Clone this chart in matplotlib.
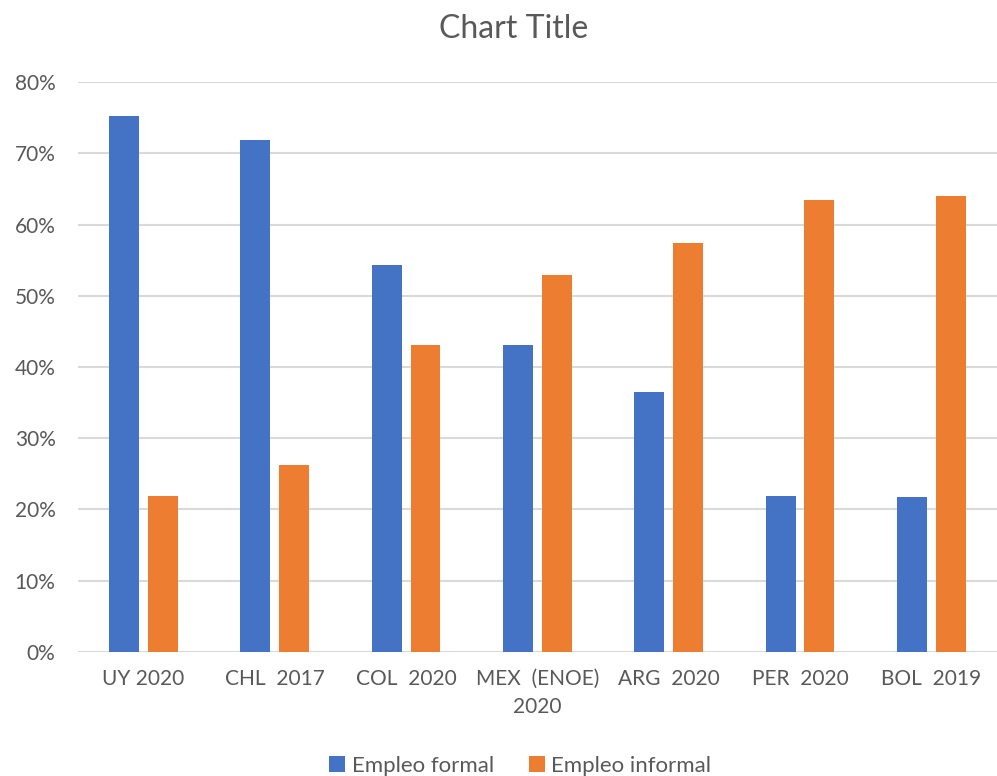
import numpy as np
import matplotlib.pyplot as plt
from matplotlib.ticker import PercentFormatter

plt.rcParams['font.family'] = ['Lato', 'DejaVu Sans']

categorias = ['UY 2020', 'CHL  2017', 'COL  2020', 'MEX  (ENOE)\n2020',
              'ARG  2020', 'PER  2020', 'BOL  2019']
formal = [0.752, 0.719, 0.543, 0.431, 0.365, 0.219, 0.218]
informal = [0.219, 0.262, 0.431, 0.529, 0.574, 0.634, 0.640]

azul = '#4472C4'
naranja = '#ED7D31'
gris = '#595959'

fig = plt.figure(figsize=(9.97, 7.76), dpi=100)
ax = fig.add_axes([0.078, 0.16, 0.922, 0.734])

x = np.arange(len(categorias))
ancho = 0.228
ax.bar(x - 0.148, formal, ancho, color=azul, label='Empleo formal', zorder=3)
ax.bar(x + 0.148, informal, ancho, color=naranja, label='Empleo informal', zorder=3)

ax.set_xlim(-0.5, len(categorias) - 0.5)
ax.set_ylim(0, 0.8)
ax.set_yticks(np.arange(0, 0.81, 0.1))
ax.yaxis.set_major_formatter(PercentFormatter(1.0, decimals=0))
ax.set_xticks(x)
ax.set_xticklabels(categorias, linespacing=1.55)
ax.tick_params(axis='both', length=0, labelsize=15, colors=gris)
ax.tick_params(axis='x', pad=12, labelcolor=gris)
ax.tick_params(axis='y', pad=16)
ax.grid(axis='y', color='#D9D9D9', linewidth=1.5, zorder=0)
for s in ax.spines.values():
    s.set_visible(False)

fig.text(0.515, 0.963, 'Chart Title', ha='center', va='center', fontsize=23, color=gris)
fig.legend(loc='center', bbox_to_anchor=(0.522, 0.013), ncol=2, frameon=False,
           fontsize=16, labelcolor=gris, handlelength=0.7, handleheight=0.7,
           handletextpad=0.3, columnspacing=1.6)

fig.savefig('out.png', dpi=100)
